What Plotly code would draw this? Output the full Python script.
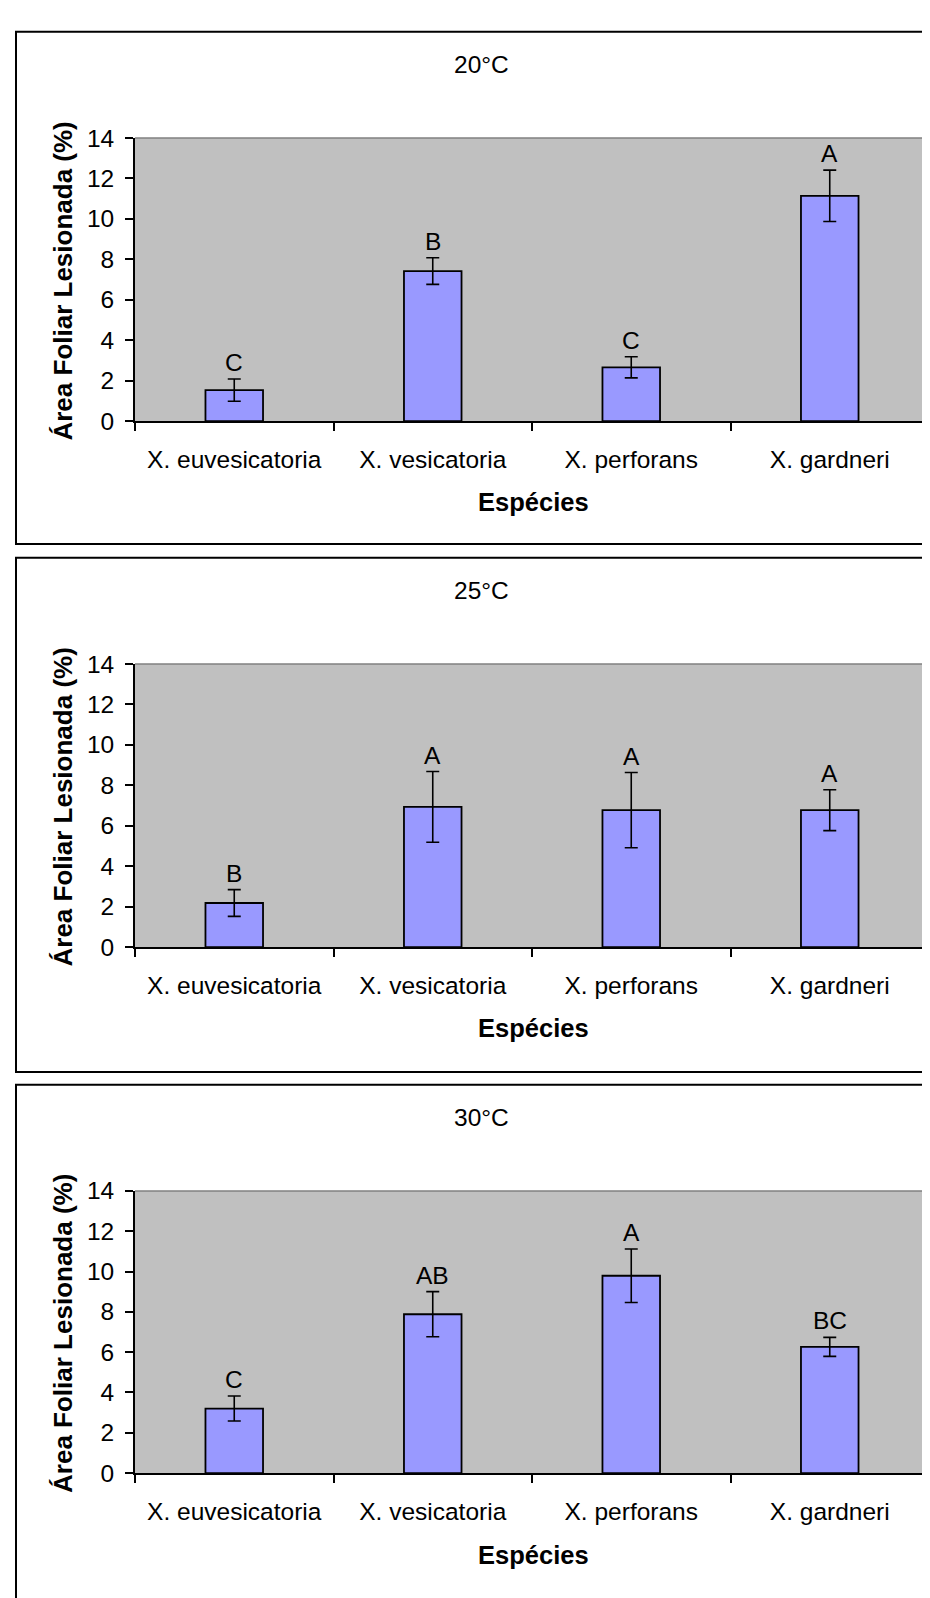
import plotly.graph_objects as go

categories = ["X. euvesicatoria", "X. vesicatoria", "X. perforans", "X. gardneri"]
temps = ["20°C", "25°C", "30°C"]

vals_20 = [1.53, 7.42, 2.66, 11.14]
err_20 = [0.55, 0.66, 0.52, 1.27]
letters_20 = ["C", "B", "C", "A"]

vals_25 = [2.18, 6.93, 6.77, 6.77]
err_25 = [0.66, 1.75, 1.86, 1.01]
letters_25 = ["B", "A", "A", "A"]

vals_30 = [3.20, 7.88, 9.79, 6.26]
err_30 = [0.62, 1.12, 1.33, 0.47]
letters_30 = ["C", "AB", "A", "BC"]

y_ticks = [0, 2, 4, 6, 8, 10, 12, 14]
y_title = "Área Foliar Lesionada (%)"
x_title = "Espécies"

W, H = 930, 1598
FONT = "Liberation Sans, Arial, sans-serif"
FS = 24.5

panels = [
    (vals_20, err_20, letters_20),
    (vals_25, err_25, letters_25),
    (vals_30, err_30, letters_30),
]
plot_top = [119, 654, 1190]
plot_bot = [407, 942, 1477]
box_top = [11, 546, 1082]
box_bot = [532, 1069, 1640]
title_y = [44, 579, 1115]
xtitle_y = [489, 1024, 1560]
px_left, px_right = 127, 921


def fx(px):
    return px / W


def fy(py):
    return 1 - py / H


fig = go.Figure()
shapes = []
annotations = []

for i, (vals, errs, letters) in enumerate(panels):
    n = "" if i == 0 else str(i + 1)
    xa = "x" + n
    ya = "y" + n
    fig.add_trace(go.Bar(
        x=categories, y=vals, xaxis=xa, yaxis=ya,
        width=0.29,
        marker=dict(color="#9999FF", line=dict(color="black", width=1.8)),
        error_y=dict(type="data", array=errs, visible=True,
                     color="black", thickness=1.6, width=6.5),
        showlegend=False, hoverinfo="skip",
    ))
    xdom = [fx(px_left), fx(px_right)]
    ydom = [fy(plot_bot[i]), fy(plot_top[i])]
    fig.update_layout(**{
        ("xaxis" + n): dict(
            domain=xdom, anchor=ya, type="category",
            tickson="boundaries", ticks="outside", ticklen=8,
            tickwidth=1.5, tickcolor="black",
            showline=True, linecolor="black", linewidth=1.8,
            showgrid=False, zeroline=False,
            tickfont=dict(family=FONT, size=FS, color="black"),
            ticklabelstandoff=16,
            range=[-0.5, 3.5], fixedrange=True,
        ),
        ("yaxis" + n): dict(
            domain=ydom, anchor=xa, range=[0, 14],
            tickmode="array", tickvals=y_ticks,
            ticktext=[str(t) for t in y_ticks],
            ticks="outside", ticklen=8, tickwidth=1.5, tickcolor="black",
            showline=True, linecolor="black", linewidth=1.8,
            showgrid=False, zeroline=False,
            tickfont=dict(family=FONT, size=FS, color="black"),
            ticklabelstandoff=6, fixedrange=True,
        ),
    })
    # panel border
    shapes.append(dict(type="rect", xref="paper", yref="paper",
                       x0=fx(8), x1=fx(960), y0=fy(box_bot[i]), y1=fy(box_top[i]),
                       line=dict(color="black", width=2), fillcolor="rgba(0,0,0,0)",
                       layer="below"))
    # plot area background
    shapes.append(dict(type="rect", xref="paper", yref="paper",
                       x0=fx(px_left), x1=fx(px_right), y0=fy(plot_bot[i]), y1=fy(plot_top[i]),
                       line=dict(width=0), fillcolor="#C0C0C0", layer="below"))
    # gray top and right edges
    shapes.append(dict(type="line", xref="paper", yref="paper",
                       x0=fx(px_left), x1=fx(px_right), y0=fy(plot_top[i]), y1=fy(plot_top[i]),
                       line=dict(color="#808080", width=1.5)))
    shapes.append(dict(type="line", xref="paper", yref="paper",
                       x0=fx(px_right), x1=fx(px_right), y0=fy(plot_bot[i]), y1=fy(plot_top[i]),
                       line=dict(color="#808080", width=1.5)))
    # title
    annotations.append(dict(text=temps[i], xref="paper", yref="paper",
                            x=fx(474), y=fy(title_y[i]), showarrow=False,
                            xanchor="center", yanchor="middle",
                            font=dict(family=FONT, size=FS, color="black")))
    # x title
    annotations.append(dict(text="<b>" + x_title + "</b>", xref="paper", yref="paper",
                            x=fx(525), y=fy(xtitle_y[i]), showarrow=False,
                            xanchor="center", yanchor="middle",
                            font=dict(family=FONT, size=25.5, color="black")))
    # y title
    annotations.append(dict(text="<b>" + y_title + "</b>", xref="paper", yref="paper",
                            x=fx(55), y=fy((plot_top[i] + plot_bot[i]) / 2 + 2),
                            showarrow=False, textangle=-90,
                            xanchor="center", yanchor="middle",
                            font=dict(family=FONT, size=26, color="black")))
    # letters
    for c, v, e, lt in zip(categories, vals, errs, letters):
        annotations.append(dict(text=lt, xref=xa, yref=ya, x=c, y=v + e,
                                showarrow=False, xanchor="center", yanchor="bottom",
                                yshift=1,
                                font=dict(family=FONT, size=FS, color="black")))

fig.update_layout(
    width=W, height=H, margin=dict(l=0, r=0, t=0, b=0),
    paper_bgcolor="white", plot_bgcolor="rgba(0,0,0,0)",
    shapes=shapes, annotations=annotations,
    bargap=0.71, showlegend=False,
    font=dict(family=FONT, size=FS, color="black"),
)

fig.write_html("out.html")
